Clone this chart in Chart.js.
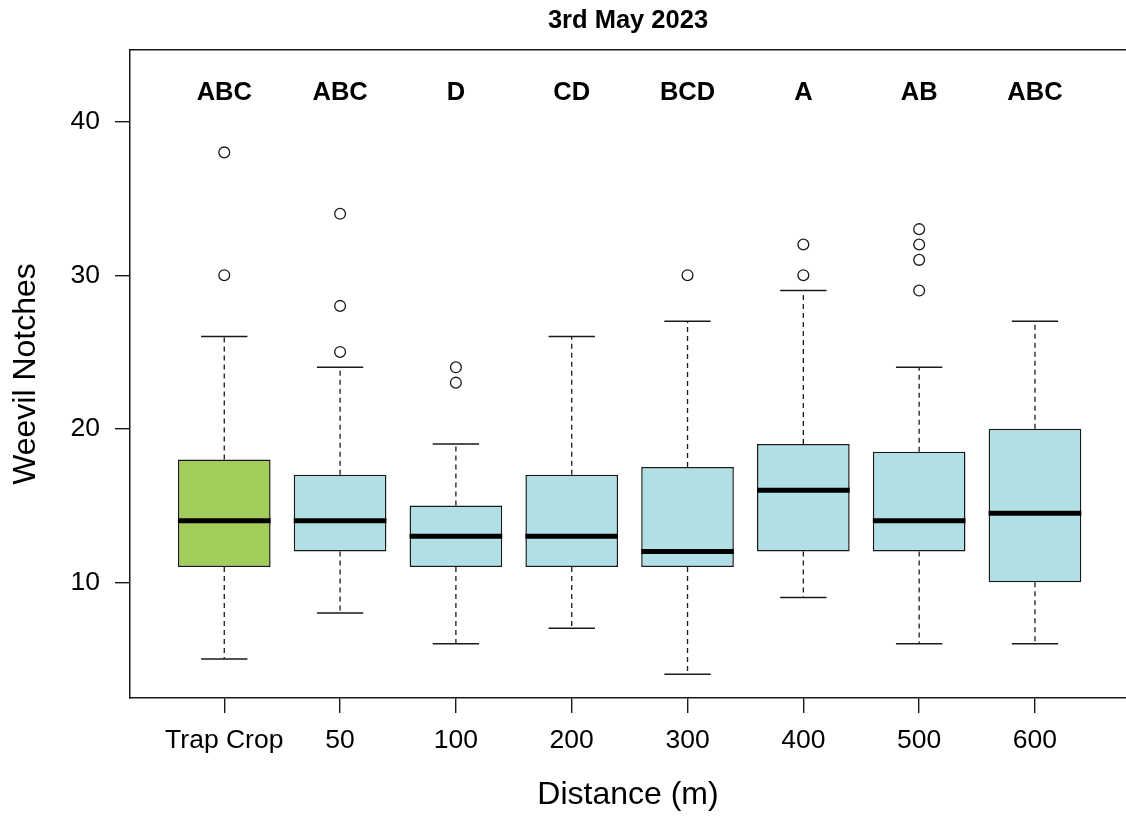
<!DOCTYPE html>
<html>
<head>
<meta charset="utf-8">
<script src="https://cdn.jsdelivr.net/npm/chart.js@4.4.0/dist/chart.umd.min.js"></script>
<style>
  html, body { margin: 0; padding: 0; background: #ffffff; }
  #wrap { width: 1126px; height: 818px; }
</style>
</head>
<body>
<div id="wrap"><canvas id="c" width="1126" height="818"></canvas></div>
<script>
// ---- data ----
const categories   = ['Trap Crop', '50', '100', '200', '300', '400', '500', '600'];
const whiskerLow   = [5, 8, 6, 7, 4, 9, 6, 6];
const q1           = [11, 12, 11, 11, 11, 12, 12, 10];
const medians      = [14, 14, 13, 13, 12, 16, 14, 14.5];
const q3           = [18, 17, 15, 17, 17.5, 19, 18.5, 20];
const whiskerHigh  = [26, 24, 19, 26, 27, 29, 24, 27];
const outliers     = [[30, 38], [25, 28, 34], [23, 24], [], [30], [30, 32], [29, 31, 32, 33], []];
const letters      = ['ABC', 'ABC', 'D', 'CD', 'BCD', 'A', 'AB', 'ABC'];
const boxColors    = ['#A2CD5A', '#B0E0E6', '#B0E0E6', '#B0E0E6', '#B0E0E6', '#B0E0E6', '#B0E0E6', '#B0E0E6'];
const yTicks       = [10, 20, 30, 40];
const letterY      = 42;

// ---- styling constants ----
const FONT = '"Liberation Sans", Arial, Helvetica, sans-serif';
const BOX_HALF = 0.4;   // boxwex 0.8
const CAP_HALF = 0.2;   // staple half width
const X_MIN = 0.186, X_MAX = 8.786;
const Y_MIN = 2.46, Y_MAX = 44.67;
const INK = '#1a1a1a';

const xPos = categories.map((_, i) => i + 1);

const boxData = xPos.map((x, i) => ({ x: x, y: [q1[i], q3[i]] }));

const whiskerData = [];
xPos.forEach((x, i) => {
  whiskerData.push({ x: x, y: q3[i] }, { x: x, y: whiskerHigh[i] }, { x: x, y: null });
  whiskerData.push({ x: x, y: q1[i] }, { x: x, y: whiskerLow[i] }, { x: x, y: null });
});

const capData = [];
xPos.forEach((x, i) => {
  capData.push({ x: x - CAP_HALF, y: whiskerHigh[i] }, { x: x + CAP_HALF, y: whiskerHigh[i] }, { x: x, y: null });
  capData.push({ x: x - CAP_HALF, y: whiskerLow[i] }, { x: x + CAP_HALF, y: whiskerLow[i] }, { x: x, y: null });
});

const medianData = [];
xPos.forEach((x, i) => {
  medianData.push({ x: x - BOX_HALF, y: medians[i] }, { x: x + BOX_HALF, y: medians[i] }, { x: x, y: null });
});

const outlierData = [];
xPos.forEach((x, i) => outliers[i].forEach(v => outlierData.push({ x: x, y: v })));

const letterPlugin = {
  id: 'groupLetters',
  afterDatasetsDraw(chart) {
    const { ctx, scales } = chart;
    ctx.save();
    ctx.font = 'bold 25.5px ' + FONT;
    ctx.fillStyle = '#000';
    ctx.textAlign = 'center';
    ctx.textBaseline = 'middle';
    letters.forEach((t, i) => {
      ctx.fillText(t, scales.x.getPixelForValue(xPos[i]), scales.y.getPixelForValue(letterY) + 2);
    });
    ctx.restore();
  }
};

Chart.defaults.font.family = FONT;
Chart.defaults.color = '#000';

new Chart(document.getElementById('c'), {
  type: 'bar',
  data: {
    datasets: [
      {
        type: 'line', label: 'whiskers', data: whiskerData, order: 5,
        borderColor: INK, borderWidth: 1.3, borderDash: [5, 4], pointRadius: 0,
        spanGaps: false, fill: false, tension: 0, borderCapStyle: 'butt'
      },
      {
        type: 'line', label: 'caps', data: capData, order: 4,
        borderColor: INK, borderWidth: 1.5, pointRadius: 0,
        spanGaps: false, fill: false, tension: 0, borderCapStyle: 'butt'
      },
      {
        type: 'bar', label: 'boxes', data: boxData, order: 3,
        backgroundColor: boxColors, borderColor: INK, borderWidth: 1.5,
        borderSkipped: false, barPercentage: 0.8, categoryPercentage: 1.0
      },
      {
        type: 'line', label: 'medians', data: medianData, order: 2,
        borderColor: '#000', borderWidth: 5, pointRadius: 0,
        spanGaps: false, fill: false, tension: 0, borderCapStyle: 'butt'
      },
      {
        type: 'scatter', label: 'outliers', data: outlierData, order: 1,
        backgroundColor: '#fff', borderColor: INK, pointRadius: 5.4, pointBorderWidth: 1.3,
        pointHoverRadius: 5.4, showLine: false
      }
    ]
  },
  options: {
    responsive: false,
    animation: false,
    events: [],
    layout: { autoPadding: false, padding: { left: 0, right: 0, top: 0, bottom: 0 } },
    plugins: {
      legend: { display: false },
      tooltip: { enabled: false },
      title: {
        display: true, text: '3rd May 2023', fullSize: false, color: '#000',
        font: { size: 25.5, weight: 'bold', lineHeight: 1.2 },
        padding: { top: 6, bottom: 13.4 }
      }
    },
    scales: {
      x: {
        type: 'linear', position: 'bottom', min: X_MIN, max: X_MAX, bounds: 'data', offset: false,
        afterBuildTicks: s => { s.ticks = xPos.map(v => ({ value: v })); },
        afterFit: s => { s.height = 120; s.paddingLeft = 0; s.paddingRight = 0; },
        ticks: {
          autoSkip: false, maxRotation: 0, padding: 12, color: '#000',
          font: { size: 26.5, lineHeight: 1.2 },
          callback: v => categories[Math.round(v) - 1]
        },
        grid: { offset: false, drawOnChartArea: false, drawTicks: true, tickLength: 15, color: INK, lineWidth: 1.4 },
        border: { display: true, color: INK, width: 1.5 },
        title: {
          display: true, text: 'Distance (m)', color: '#000',
          font: { size: 32, lineHeight: 1.2 }, padding: { top: 0, bottom: 3.8 }
        }
      },
      xTop: {
        type: 'linear', position: 'top', min: X_MIN, max: X_MAX, bounds: 'data', offset: false,
        afterFit: s => { s.height = 0; s.paddingLeft = 0; s.paddingRight = 0; },
        ticks: { display: false },
        grid: { offset: false, drawOnChartArea: false, drawTicks: false },
        border: { display: true, color: INK, width: 1.5 }
      },
      y: {
        type: 'linear', position: 'left', min: Y_MIN, max: Y_MAX, bounds: 'data',
        afterBuildTicks: s => { s.ticks = yTicks.map(v => ({ value: v })); },
        afterFit: s => { s.width = 130; },
        ticks: { padding: 15, color: '#000', font: { size: 26.5, lineHeight: 1.2 } },
        grid: { drawOnChartArea: false, drawTicks: true, tickLength: 15, color: INK, lineWidth: 1.4 },
        border: { display: true, color: INK, width: 1.5 },
        title: {
          display: true, text: 'Weevil Notches', color: '#000',
          font: { size: 32, lineHeight: 1.2 }, padding: { top: 6.8, bottom: 0 }
        }
      }
    }
  },
  plugins: [letterPlugin]
});
</script>
</body>
</html>
